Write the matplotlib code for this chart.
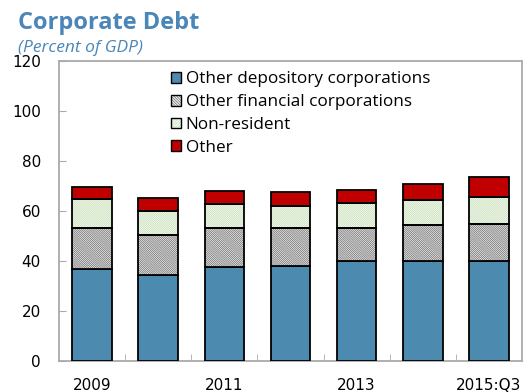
import numpy as np
import matplotlib.pyplot as plt
import matplotlib as mpl
from matplotlib.patches import Patch

mpl.rcParams["hatch.linewidth"] = 0.5

OUTPUT_PATH = "out.png"

years = ["2009", "2010", "2011", "2012", "2013", "2014", "2015:Q3"]
tick_labels = ["2009", "", "2011", "", "2013", "", "2015:Q3"]

depository = [36.7, 34.3, 37.6, 38.1, 39.9, 39.9, 39.9]
financial = [16.4, 16.0, 15.5, 15.0, 13.2, 14.4, 14.8]
non_resident = [11.8, 9.6, 9.6, 9.0, 10.2, 10.1, 10.9]
other = [4.7, 5.3, 5.3, 5.4, 5.2, 6.4, 8.1]

BLUE = "#4D8AB0"
RED = "#C00000"
SPINE = "#AAAAAA"
TITLE = "#4A86B8"

GRAY_BG, GRAY_HATCH, GRAY_PAT = "#F0F0F0", "#6A6A6A", "\\" * 16
GREEN_BG, GREEN_HATCH, GREEN_PAT = "#F8FCF5", "#C4DBB4", "/" * 16


def hatched(ax, x, h, bottom, w, bg, hc, pat):
    ax.bar(x, h, w, bottom=bottom, color=bg, edgecolor=hc, hatch=pat,
           linewidth=0, zorder=3)
    ax.bar(x, h, w, bottom=bottom, fill=False, edgecolor="black",
           linewidth=1.3, zorder=4)


def main():
    fig = plt.figure(figsize=(5.32, 3.92), dpi=100)
    ax = fig.add_axes([0.111, 0.079, 0.870, 0.765])

    x = np.arange(len(years))
    w = 0.6
    bottom = np.zeros(len(years))

    ax.bar(x, depository, w, bottom=bottom, color=BLUE, edgecolor="black",
           linewidth=1.3, zorder=3)
    bottom += depository
    hatched(ax, x, financial, bottom, w, GRAY_BG, GRAY_HATCH, GRAY_PAT)
    bottom += financial
    hatched(ax, x, non_resident, bottom, w, GREEN_BG, GREEN_HATCH, GREEN_PAT)
    bottom += non_resident
    ax.bar(x, other, w, bottom=bottom, color=RED, edgecolor="black",
           linewidth=1.3, zorder=3)

    def box():
        return Patch(fill=False, edgecolor="black", linewidth=1.0)

    handles = [
        Patch(facecolor=BLUE, edgecolor="black", linewidth=1.0),
        (Patch(facecolor=GRAY_BG, edgecolor=GRAY_HATCH, hatch="\\" * 12, linewidth=0), box()),
        (Patch(facecolor=GREEN_BG, edgecolor=GREEN_HATCH, hatch="/" * 12, linewidth=0), box()),
        Patch(facecolor=RED, edgecolor="black", linewidth=1.0),
    ]
    labels = ["Other depository corporations", "Other financial corporations",
              "Non-resident", "Other"]
    ax.legend(handles, labels, loc="upper left", bbox_to_anchor=(0.22, 1.0),
              frameon=False, prop={"family": "Open Sans", "size": 12.3},
              handlelength=0.6, handleheight=0.6, handletextpad=0.25,
              labelspacing=0.4, borderaxespad=0.2)

    ax.set_xlim(-0.5, len(years) - 0.5)
    ax.set_ylim(0, 120)
    ax.set_yticks(range(0, 121, 20))
    ax.tick_params(axis="y", direction="in", length=5, color=SPINE,
                   labelsize=11, pad=13)
    ax.set_xticks(x)
    ax.set_xticklabels(tick_labels)
    ax.tick_params(axis="x", which="major", length=0, labelsize=11, pad=12)
    ax.set_xticks(x[:-1] + 0.5, minor=True)
    ax.tick_params(axis="x", which="minor", direction="in", length=5, color=SPINE)

    for s in ax.spines.values():
        s.set_color(SPINE)
        s.set_linewidth(1.3)

    fig.text(0.034, 0.925, "Corporate Debt", fontsize=17, fontweight="bold",
             color=TITLE, family="Open Sans", va="baseline")
    fig.text(0.034, 0.868, "(Percent of GDP)", fontsize=12.5, style="italic",
             color=TITLE, family="Open Sans", va="baseline")

    fig.savefig(OUTPUT_PATH, dpi=100)
    plt.close(fig)


if __name__ == "__main__":
    main()
